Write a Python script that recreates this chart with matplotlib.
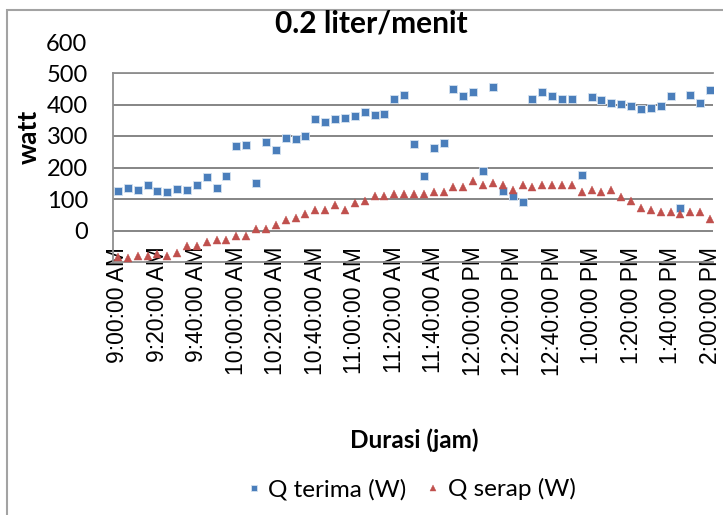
import numpy as np
import matplotlib
matplotlib.use("Agg")
import matplotlib.pyplot as plt
from matplotlib.patches import Rectangle

plt.rcParams['font.family'] = ['Lato', 'DejaVu Sans']

# readings every 5 minutes, 9:00 AM .. 2:00 PM
q_terima = [124, 135, 129, 146, 124, 123, 133, 130, 146, 170,
            135, 172, 269, 270, 150, 280, 254, 294, 289, 300,
            354, 346, 353, 356, 363, 375, 367, 371, 417, 429,
            276, 172, 261, 278, 448, 426, 440, 190, 455, 126,
            110, 92, 417, 441, 426, 418, 418, 177, 425, 414,
            405, 403, 396, 385, 388, 396, 426, 70, 429, 405, 446]
q_serap = [-85, -87, -80, -80, -74, -80, -72, -50, -50, -37,
           -31, -31, -16, -16, 4, 4, 17, 32, 39, 53,
           66, 66, 81, 66, 88, 95, 109, 109, 116, 116,
           116, 117, 122, 122, 137, 137, 158, 144, 151, 144,
           130, 144, 137, 144, 144, 144, 144, 122, 129, 122,
           129, 107, 94, 73, 66, 60, 60, 52, 60, 60, 38]
time_labels = ['9:00:00 AM', '9:20:00 AM', '9:40:00 AM', '10:00:00 AM',
               '10:20:00 AM', '10:40:00 AM', '11:00:00 AM', '11:20:00 AM',
               '11:40:00 AM', '12:00:00 PM', '12:20:00 PM', '12:40:00 PM',
               '1:00:00 PM', '1:20:00 PM', '1:40:00 PM', '2:00:00 PM']
y_ticks = [0, 100, 200, 300, 400, 500]

W, H = 723, 515
fig = plt.figure(figsize=(W / 100, H / 100), dpi=100)
fig.patch.set_facecolor('white')

# outer chart frame (runs off right/bottom edge)
fig.patches.append(Rectangle((7 / W, -0.2), 2, 1.2 - 10 / H, transform=fig.transFigure,
                             fill=False, edgecolor='#a3a3a3', lw=1.5))

ax = fig.add_axes([113 / W, 1 - 262 / H, 600 / W, 189 / H])
x = np.arange(len(q_terima))

ax.plot(x, q_terima, ls='none', marker='s', ms=5.3, color='#4a7ebb',
        mec='#d6e2f0', mew=0.6, label='Q terima (W)', zorder=3)
ax.plot(x, q_serap, ls='none', marker='^', ms=5.5, color='#c0504d',
        mec='#c0504d', mew=0.3, label='Q serap (W)', zorder=3)

ax.set_xlim(-0.5, 60.3)
ax.set_ylim(-100, 500)

ax.set_yticks(y_ticks)
ax.set_yticklabels([str(v) for v in y_ticks])
ax.yaxis.grid(True, color='#858585', lw=1.4)
ax.set_axisbelow(True)
ax.tick_params(axis='y', length=0, pad=18, labelsize=17)
ax.text(-0.043, 590, '600', transform=ax.get_yaxis_transform(), ha='right',
        va='center', fontsize=17, clip_on=False)

ax.tick_params(axis='x', length=0, pad=-11)
ax.set_xticks(x[::4])
ax.set_xticklabels(time_labels, rotation=90, va='top', ha='center')
for lbl in ax.get_xticklabels():
    lbl.set_fontfamily('Liberation Sans')
    lbl.set_fontsize(16.5)

for side in ['left', 'bottom', 'top']:
    ax.spines[side].set_color('#8f8f8f')
    ax.spines[side].set_linewidth(1.3)
ax.spines['right'].set_visible(False)

ax.set_ylabel('watt', fontsize=19, fontweight='bold')
ax.yaxis.set_label_coords(-0.12, 0.66)
ax.set_xlabel('Durasi (jam)', fontsize=17.5, fontweight='bold', va='center')
ax.xaxis.set_label_coords(0.502, -0.942)

fig.text(371 / W, 1 - 24 / H, '0.2 liter/menit', ha='center', va='center',
         fontsize=21.5, fontweight='bold')

fig.legend(loc='center', bbox_to_anchor=(411 / W, 1 - 489 / H), ncol=2,
           frameon=False, fontsize=17.5, markerscale=0.8, handlelength=0.6,
           handletextpad=0.3, columnspacing=0.8)

fig.savefig('out.png', dpi=100)
